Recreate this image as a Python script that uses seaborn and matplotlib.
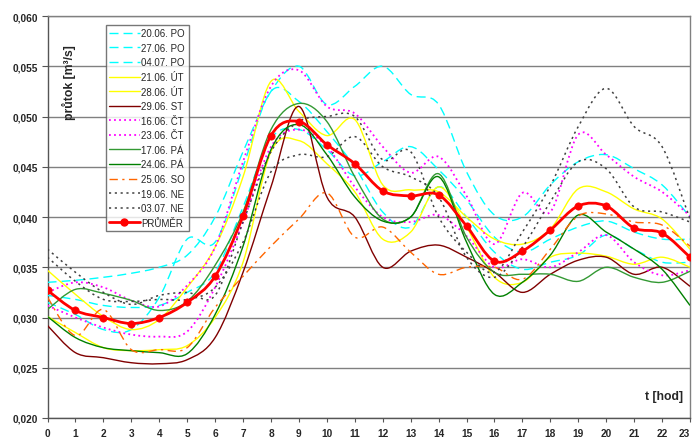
import matplotlib
matplotlib.use("Agg")
import matplotlib.pyplot as plt
from matplotlib.path import Path
from matplotlib.patches import PathPatch
from matplotlib.lines import Line2D
from matplotlib.ticker import FuncFormatter
import numpy as np
import seaborn as sns

# --- hourly flow rates [m3/s] ---------------------------------------------
hours = list(range(24))

po_2006 = [0.0335, 0.0337, 0.0340, 0.0344, 0.0350, 0.0362, 0.0400, 0.0465, 0.0525, 0.0550, 0.0512, 0.0530,
           0.0550, 0.0522, 0.0512, 0.0445, 0.0402, 0.0400, 0.0432, 0.0455, 0.0462, 0.0448, 0.0432, 0.0400]
po_2706 = [0.0315, 0.0303, 0.0288, 0.0288, 0.0320, 0.0378, 0.0375, 0.0450, 0.0525, 0.0515, 0.0485, 0.0450,
           0.0405, 0.0390, 0.0430, 0.0400, 0.0365, 0.0348, 0.0355, 0.0362, 0.0382, 0.0368, 0.0355, 0.0355]
po_0407 = [0.0322, 0.0318, 0.0312, 0.0310, 0.0312, 0.0325, 0.0345, 0.0410, 0.0478, 0.0487, 0.0467, 0.0441,
           0.0455, 0.0470, 0.0447, 0.0417, 0.0380, 0.0365, 0.0378, 0.0390, 0.0396, 0.0385, 0.0378, 0.0378]
ut_2106 = [0.0347, 0.0323, 0.0301, 0.0288, 0.0298, 0.0330, 0.0370, 0.0440, 0.0535, 0.0505, 0.0481, 0.0497,
           0.0432, 0.0427, 0.0425, 0.0400, 0.0378, 0.0373, 0.0388, 0.0428, 0.0425, 0.0408, 0.0398, 0.0368]
ut_2806 = [0.0301, 0.0285, 0.0270, 0.0267, 0.0268, 0.0272, 0.0300, 0.0355, 0.0465, 0.0476, 0.0453, 0.0425,
           0.0378, 0.0385, 0.0430, 0.0390, 0.0340, 0.0335, 0.0360, 0.0364, 0.0361, 0.0353, 0.0360, 0.0350]
st_2906 = [0.0292, 0.0265, 0.0260, 0.0255, 0.0254, 0.0258, 0.0280, 0.0345, 0.0430, 0.0510, 0.0420, 0.0400,
           0.0350, 0.0366, 0.0372, 0.0360, 0.0345, 0.0325, 0.0343, 0.0357, 0.0360, 0.0343, 0.0350, 0.0331]
ct_1606 = [0.0325, 0.0335, 0.0330, 0.0317, 0.0311, 0.0332, 0.0370, 0.0455, 0.0530, 0.0546, 0.0510, 0.0503,
           0.0470, 0.0444, 0.0460, 0.0421, 0.0373, 0.0424, 0.0405, 0.0482, 0.0462, 0.0440, 0.0425, 0.0401]
ct_2306 = [0.0312, 0.0300, 0.0290, 0.0283, 0.0281, 0.0286, 0.0330, 0.0395, 0.0470, 0.0487, 0.0470, 0.0430,
           0.0400, 0.0395, 0.0402, 0.0381, 0.0350, 0.0358, 0.0350, 0.0365, 0.0382, 0.0355, 0.0342, 0.0347]
pa_1706 = [0.0308, 0.0328, 0.0324, 0.0317, 0.0307, 0.0316, 0.0352, 0.0405, 0.0487, 0.0513, 0.0495, 0.0440,
           0.0398, 0.0400, 0.0443, 0.0380, 0.0345, 0.0343, 0.0343, 0.0336, 0.0350, 0.0340, 0.0335, 0.0346]
pa_2406 = [0.0301, 0.0280, 0.0270, 0.0267, 0.0265, 0.0264, 0.0303, 0.0371, 0.0467, 0.0492, 0.0462, 0.0420,
           0.0396, 0.0400, 0.0440, 0.0375, 0.0323, 0.0335, 0.0362, 0.0402, 0.0385, 0.0368, 0.0348, 0.0312]
so_2506 = [0.0320, 0.0282, 0.0308, 0.0268, 0.0268, 0.0270, 0.0310, 0.0341, 0.0371, 0.0398, 0.0424, 0.0380,
           0.0390, 0.0365, 0.0343, 0.0350, 0.0350, 0.0338, 0.0368, 0.0401, 0.0403, 0.0395, 0.0392, 0.0371]
ne_1906 = [0.0368, 0.0345, 0.0325, 0.0313, 0.0322, 0.0325, 0.0322, 0.0395, 0.0465, 0.0495, 0.0500, 0.0500,
           0.0457, 0.0465, 0.0400, 0.0365, 0.0345, 0.0385, 0.0431, 0.0490, 0.0528, 0.0490, 0.0470, 0.0398]
ne_0307 = [0.0360, 0.0336, 0.0318, 0.0316, 0.0318, 0.0318, 0.0330, 0.0375, 0.0445, 0.0462, 0.0460, 0.0480,
           0.0450, 0.0440, 0.0420, 0.0360, 0.0340, 0.0370, 0.0415, 0.0455, 0.0448, 0.0410, 0.0405, 0.0395]
prumer = [0.0327, 0.0307, 0.0300, 0.0294, 0.0300, 0.0315, 0.0341, 0.0401, 0.0481, 0.0495, 0.0472, 0.0453,
          0.0426, 0.0421, 0.0422, 0.0391, 0.0356, 0.0366, 0.0387, 0.0411, 0.0411, 0.0389, 0.0384, 0.0360]

y_ticks = [0.020, 0.025, 0.030, 0.035, 0.040, 0.045, 0.050, 0.055, 0.060]

# label, values, colour, dash pattern, line width
days = [
    ("20.06. PO", po_2006, "#00FFFF", (0, (6.5, 3.6)), 1.0),
    ("27.06. PO", po_2706, "#00FFFF", (0, (6.5, 3.6)), 1.0),
    ("04.07. PO", po_0407, "#00FFFF", (0, (6.5, 3.6)), 1.0),
    ("21.06. ÚT", ut_2106, "#FFFF00", "-", 1.0),
    ("28.06. ÚT", ut_2806, "#FFFF00", "-", 1.0),
    ("29.06. ST", st_2906, "#800000", "-", 1.0),
    ("16.06. ČT", ct_1606, "#FF00FF", (0, (1.0, 1.8)), 1.3),
    ("23.06. ČT", ct_2306, "#FF00FF", (0, (1.0, 1.8)), 1.3),
    ("17.06. PÁ", pa_1706, "#339933", "-", 1.0),
    ("24.06. PÁ", pa_2406, "#008000", "-", 1.0),
    ("25.06. SO", so_2506, "#FF6600", (0, (6.0, 3.2, 1.6, 3.2)), 1.0),
    ("19.06. NE", ne_1906, "#404040", (0, (1.4, 2.4)), 1.1),
    ("03.07. NE", ne_0307, "#404040", (0, (1.4, 2.4)), 1.1),
]


def smooth_path(xs, ys):
    """Smoothed (cubic Bezier) path through the given points."""
    xs = np.asarray(xs, float)
    ys = np.asarray(ys, float)
    n = len(xs)
    verts = [(xs[0], ys[0])]
    codes = [Path.MOVETO]
    for i in range(n - 1):
        a = i - 1 if i > 0 else i
        d = i + 2 if i + 2 < n else i + 1
        c1 = (xs[i] + (xs[i + 1] - xs[a]) / 6.0, ys[i] + (ys[i + 1] - ys[a]) / 6.0)
        c2 = (xs[i + 1] - (xs[d] - xs[i]) / 6.0, ys[i + 1] - (ys[d] - ys[i]) / 6.0)
        verts += [c1, c2, (xs[i + 1], ys[i + 1])]
        codes += [Path.CURVE4] * 3
    return Path(verts, codes)


sns.set_style("white")
plt.rcParams["font.family"] = ["Liberation Sans", "DejaVu Sans"]

W, H = 692, 439
fig = plt.figure(figsize=(W / 100, H / 100), dpi=100)
ax = fig.add_axes([47.5 / W, 20 / H, (690 - 47.5) / W, 402 / H])

handles = []
for label, vals, color, ls, lw in days:
    patch = PathPatch(smooth_path(hours, vals), fill=False, edgecolor=color,
                      linewidth=lw, linestyle=ls, zorder=3)
    ax.add_patch(patch)
    handles.append(Line2D([], [], color=color, linewidth=lw, linestyle=ls))

# average day
ax.add_patch(PathPatch(smooth_path(hours, prumer), fill=False, edgecolor="#FF0000",
                       linewidth=2.0, zorder=5))
sns.scatterplot(x=hours, y=prumer, ax=ax, color="#FF0000", edgecolor="#FF0000",
                s=28, marker="o", zorder=6, legend=False)
handles.append(Line2D([], [], color="#FF0000", linewidth=2.0, marker="o", markersize=5))
labels = [d[0] for d in days] + ["PRŮMĚR"]

ax.set_xlim(0, 23)
ax.set_ylim(0.020, 0.060)
ax.set_xticks(hours)
ax.set_yticks(y_ticks)
ax.yaxis.set_major_formatter(FuncFormatter(lambda v, _: f"{v:.3f}".replace(".", ",")))
ax.grid(axis="y", color="#808080", linewidth=1.0, zorder=0)
ax.grid(axis="x", visible=False)
ax.set_axisbelow(True)

for side, sp in ax.spines.items():
    sp.set_color("#808080")
    sp.set_linewidth(1.0)
ax.spines["left"].set_color("#555555")
ax.spines["bottom"].set_color("#555555")

ax.tick_params(axis="x", direction="out", length=3, width=0.8, color="#555555",
               pad=4, labelsize=7.3, bottom=True)
ax.tick_params(axis="y", direction="out", length=4, width=0.8, color="#555555",
               pad=3, labelsize=7.3, left=True)
for t in ax.get_xticklabels() + ax.get_yticklabels():
    t.set_fontweight("bold")
# last hour label sits at the figure edge: keep it inside
ax.get_xticklabels()[-1].set_horizontalalignment("right")

ax.set_xlabel("")
ax.set_ylabel("")
ax.text(0.0335, 0.836, "průtok [m³/s]", transform=ax.transAxes, rotation=90,
        ha="center", va="center", fontsize=8.8, fontweight="bold")
ax.text(0.989, 0.055, "t [hod]", transform=ax.transAxes, ha="right", va="center",
        fontsize=8.8, fontweight="bold")

leg = ax.legend(handles, labels, loc="upper left", bbox_to_anchor=(0.091, 0.978),
                borderaxespad=0, fontsize=7, frameon=True, fancybox=False,
                handlelength=3.1, handletextpad=0.2, labelspacing=0.47,
                borderpad=0.35)
leg.get_frame().set_edgecolor("#555555")
leg.get_frame().set_linewidth(1.0)
leg.set_zorder(10)

fig.savefig("out.png", dpi=100)
